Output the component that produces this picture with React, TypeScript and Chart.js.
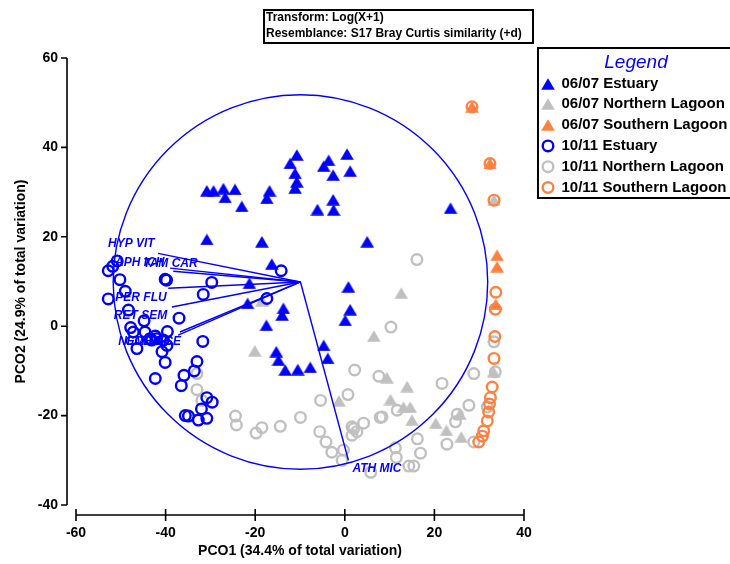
import React, { useEffect, useRef } from "react";
import { Chart, registerables } from "chart.js";

Chart.register(...registerables);

const FONT = '"Liberation Sans", Arial, sans-serif';
const BLUE = "#0000ff";
const GRAY = "#c0c0c0";
const ORANGE = "#ff8040";

const seriesLabels = [
  "06/07 Estuary",
  "06/07 Northern Lagoon",
  "06/07 Southern Lagoon",
  "10/11 Estuary",
  "10/11 Northern Lagoon",
  "10/11 Southern Lagoon",
];

const estuary0607: number[][] = [
  [-10.7, 38.3], [-12.2, 36.4], [-11.1, 34.2], [-10.7, 32.3], [-11.1, 30.9],
  [-3.6, 37.1], [-4.7, 35.8], [-2.6, 33.8], [0.5, 38.5], [1.2, 34.7],
  [-30.8, 30.3], [-29.3, 30.3], [-27.1, 30.8], [-24.5, 30.6], [-26.7, 28.8],
  [-23.0, 26.8], [-16.8, 30.3], [-17.4, 28.6], [-2.6, 28.3], [-2.5, 26.0],
  [-6.1, 26.1], [-30.8, 19.4], [-18.5, 18.9], [5.0, 18.9], [-16.3, 13.9],
  [-21.3, 9.6], [0.8, 8.8], [-13.7, 4.0], [-14.0, 2.5], [-21.7, 5.1],
  [-17.5, 0.2], [1.2, 3.7], [0.1, 1.3], [-15.3, -5.7], [-14.8, -7.6],
  [-13.3, -9.8], [-10.5, -9.7], [-7.7, -9.2], [-4.7, -4.3], [-3.8, -7.2],
  [23.6, 26.4],
];

const northern0607: number[][] = [
  [-18.5, 5.7], [-20.1, -5.5], [6.5, -2.2], [12.6, 7.4], [9.4, -11.5],
  [13.9, -13.5], [10.2, -16.4], [13.1, -18.1], [14.6, -18.1], [15.0, -21.0],
  [20.3, -21.7], [22.7, -23.3], [26.0, -24.8], [-1.3, -16.7], [33.2, -10.2],
  [25.7, -19.7], [33.3, 28.2],
];

const southern0607: number[][] = [
  [28.4, 49.1], [32.4, 36.4], [34.0, 15.9], [34.0, 13.3], [33.7, 4.9],
];

const estuary1011: number[][] = [
  [-52.8, 12.4], [-51.8, 13.4], [-50.8, 14.6], [-50.2, 10.4], [-49.0, 7.8],
  [-52.8, 6.1], [-40.1, 10.5], [-39.8, 10.3], [-29.7, 9.8], [-31.6, 7.1],
  [-17.4, 6.2], [-14.2, 12.4], [-37.0, 1.8], [-48.3, 3.6], [-44.8, 1.2],
  [-47.8, -0.3], [-47.2, -1.3], [-44.6, -1.3], [-43.5, -2.8], [-42.3, -2.2],
  [-46.4, -5.0], [-43.1, -3.1], [-42.0, -2.8], [-39.6, -1.2], [-40.5, -3.1],
  [-39.7, -4.3], [-40.8, -5.7], [-40.1, -8.1], [-31.7, -3.4], [-42.3, -11.7],
  [-33.0, -7.9], [-33.6, -10.0], [-35.9, -11.0], [-36.5, -13.3], [-30.8, -16.0],
  [-29.6, -17.0], [-32.0, -18.5], [-35.6, -20.0], [-34.9, -20.1], [-32.7, -21.0],
  [-30.8, -20.6],
];

const northern1011: number[][] = [
  [16.1, 14.9], [10.3, -0.2], [2.2, -9.8], [7.6, -11.2], [21.7, -12.8],
  [28.8, -10.6], [0.7, -15.3], [-5.4, -16.6], [-9.9, -20.4], [7.9, -20.4],
  [11.7, -18.8], [25.1, -19.7], [27.7, -17.7], [4.2, -21.7], [2.0, -22.9],
  [1.6, -24.4], [-5.6, -23.6], [-4.2, -25.9], [-2.9, -28.2], [-0.3, -27.7],
  [-0.6, -30.0], [16.2, -25.2], [16.9, -28.4], [11.3, -27.2], [11.5, -29.4],
  [22.8, -26.4], [15.4, -31.3], [14.3, -31.3], [5.8, -32.7], [28.8, -25.9],
  [33.3, -3.5], [33.6, -10.2], [24.7, -21.4], [31.8, -18.1], [8.3, -20.3],
  [2.7, -23.6], [-33.0, -10.6], [-33.0, -14.2], [-31.9, -16.6], [-24.4, -20.1],
  [-24.2, -22.1], [-18.5, -22.7], [-19.8, -23.9], [-14.4, -22.4], [1.6, -22.5],
];

const southern1011: number[][] = [
  [28.4, 49.1], [32.4, 36.4], [33.3, 28.2], [33.7, 7.6], [33.6, 3.8],
  [33.5, -2.3], [33.3, -7.2], [32.9, -13.6], [32.5, -16.0], [32.3, -17.4],
  [32.1, -19.2], [31.8, -21.2], [31.0, -23.4], [30.7, -24.6], [29.9, -25.9],
];

const xTicks = [-60, -40, -20, 0, 20, 40];
const yTicks = [-40, -20, 0, 20, 40, 60];

const vectorOrigin = [-9.9, 9.9];
const circleRadius = 41.8;
const vectorNames = ["HYP VIT", "APH ICH", "TAM CAR", "PER FLU", "RET SEM", "NEM ATE", "GOB ACE", "ATH MIC"];
const vectorX = [-41.7, -39.0, -38.3, -39.4, -38.6, -37.2, -36.8, 0.8];
const vectorY = [16.3, 13.0, 12.3, 8.5, 4.3, -2.0, -1.3, -30.0];
// label offset in pixels from the vector tip (left edge, vertical middle)
const labelDX = [-50, -55, -30, -53, -58, -60, -55, 4];
const labelDY = [-9.5, -5, -8, 9, 8.5, 7, 10, 8];

const infoLines = ["Transform: Log(X+1)", "Resemblance: S17 Bray Curtis similarity (+d)"];

function toPts(a: number[][]) {
  return a.map(([x, y]) => ({ x, y }));
}

function makeTriangle(color: string) {
  const c = document.createElement("canvas");
  c.width = 14;
  c.height = 12;
  const g = c.getContext("2d")!;
  g.fillStyle = color;
  g.beginPath();
  g.moveTo(7, 0.3);
  g.lineTo(13.8, 11.8);
  g.lineTo(0.2, 11.8);
  g.closePath();
  g.fill();
  return c;
}

function drawLegendMarker(ctx: CanvasRenderingContext2D, ds: any, x: number, y: number) {
  ctx.save();
  if (ds.pointStyle instanceof HTMLCanvasElement) {
    const img = ds.pointStyle as HTMLCanvasElement;
    ctx.drawImage(img, Math.round(x - img.width / 2), Math.round(y - img.height / 2));
  } else {
    ctx.strokeStyle = ds.borderColor;
    ctx.lineWidth = 2.4;
    ctx.beginPath();
    ctx.arc(x, y, 5.3, 0, Math.PI * 2);
    ctx.stroke();
  }
  ctx.restore();
}

const overlayPlugin = {
  id: "overlay",
  afterDatasetsDraw(chart: any) {
    const ctx: CanvasRenderingContext2D = chart.ctx;
    const xs = chart.scales.x;
    const ys = chart.scales.y;
    const px = (v: number) => xs.getPixelForValue(v);
    const py = (v: number) => ys.getPixelForValue(v);
    ctx.save();
    const ox = px(vectorOrigin[0]);
    const oy = py(vectorOrigin[1]);
    const r = px(vectorOrigin[0] + circleRadius) - ox;
    ctx.strokeStyle = BLUE;
    ctx.lineWidth = 1.4;
    ctx.beginPath();
    ctx.arc(ox, oy, r, 0, Math.PI * 2);
    ctx.stroke();
    ctx.font = `italic bold 12px ${FONT}`;
    ctx.fillStyle = BLUE;
    ctx.textBaseline = "middle";
    ctx.textAlign = "left";
    for (let i = 0; i < vectorNames.length; i++) {
      const ex = px(vectorX[i]);
      const ey = py(vectorY[i]);
      ctx.beginPath();
      ctx.moveTo(ox, oy);
      ctx.lineTo(ex, ey);
      ctx.stroke();
      ctx.fillText(vectorNames[i], ex + labelDX[i], ey + labelDY[i]);
    }
    ctx.restore();
  },
  afterDraw(chart: any) {
    const ctx: CanvasRenderingContext2D = chart.ctx;
    const xs = chart.scales.x;
    const ys = chart.scales.y;
    const area = chart.chartArea;
    ctx.save();
    // axes (detached, PRIMER style)
    ctx.strokeStyle = "#000";
    ctx.lineWidth = 1.6;
    const yAxisX = area.left - 9;
    ctx.beginPath();
    ctx.moveTo(yAxisX, ys.getPixelForValue(yTicks[0]));
    ctx.lineTo(yAxisX, ys.getPixelForValue(yTicks[yTicks.length - 1]));
    for (const t of yTicks) {
      const y = ys.getPixelForValue(t);
      ctx.moveTo(yAxisX - 6, y);
      ctx.lineTo(yAxisX, y);
    }
    const xAxisY = area.bottom + 10;
    ctx.moveTo(xs.getPixelForValue(xTicks[0]), xAxisY);
    ctx.lineTo(xs.getPixelForValue(xTicks[xTicks.length - 1]), xAxisY);
    for (const t of xTicks) {
      const x = xs.getPixelForValue(t);
      ctx.moveTo(x, xAxisY - 6);
      ctx.lineTo(x, xAxisY + 6);
    }
    ctx.stroke();

    // info box
    ctx.lineWidth = 2;
    ctx.strokeRect(264, 10, 269, 33);
    ctx.fillStyle = "#000";
    ctx.font = `bold 12px ${FONT}`;
    ctx.textBaseline = "middle";
    ctx.textAlign = "left";
    ctx.fillText(infoLines[0], 266, 18);
    ctx.fillText(infoLines[1], 266, 33.5);

    // legend
    ctx.lineWidth = 2;
    ctx.strokeRect(538, 48, 200, 150);
    ctx.fillStyle = BLUE;
    ctx.font = `italic 19px ${FONT}`;
    ctx.textAlign = "center";
    ctx.fillText("Legend", 636, 63);
    ctx.textAlign = "left";
    ctx.font = `bold 15px ${FONT}`;
    chart.data.datasets.forEach((ds: any, i: number) => {
      const y = 83.5 + i * 20.8;
      drawLegendMarker(ctx, ds, 548, y);
      ctx.fillStyle = "#000";
      ctx.fillText(ds.label, 561.5, y);
    });
    ctx.restore();
  },
};

export default function App() {
  const ref = useRef<HTMLCanvasElement>(null);
  useEffect(() => {
    if (!ref.current) return;
    const tri = (label: string, color: string, data: number[][], order: number) => ({
      label,
      data: toPts(data),
      pointStyle: makeTriangle(color),
      pointRadius: 7,
      pointHoverRadius: 7,
      backgroundColor: color,
      borderColor: color,
      borderWidth: 0,
      order,
    });
    const circ = (label: string, color: string, data: number[][], order: number) => ({
      label,
      data: toPts(data),
      pointStyle: "circle",
      pointRadius: 5.3,
      pointHoverRadius: 5.3,
      backgroundColor: "rgba(0,0,0,0)",
      borderColor: color,
      borderWidth: 2.4,
      order,
    });
    const chart = new Chart(ref.current, {
      type: "scatter",
      data: {
        datasets: [
          tri(seriesLabels[0], BLUE, estuary0607, 4),
          tri(seriesLabels[1], GRAY, northern0607, 5),
          tri(seriesLabels[2], ORANGE, southern0607, 2),
          circ(seriesLabels[3], BLUE, estuary1011, 3),
          circ(seriesLabels[4], GRAY, northern1011, 6),
          circ(seriesLabels[5], ORANGE, southern1011, 1),
        ] as any,
      },
      options: {
        responsive: false,
        animation: false,
        devicePixelRatio: 1,
        layout: { padding: { left: 0, right: 206, top: 58, bottom: 0 } },
        plugins: { legend: { display: false }, tooltip: { enabled: false } },
        scales: {
          x: {
            type: "linear",
            min: -60,
            max: 40,
            grid: { display: false, drawTicks: false },
            border: { display: false },
            afterBuildTicks: (s: any) => { s.ticks = xTicks.map((v) => ({ value: v })); },
            afterFit: (s: any) => { s.height = 59; },
            ticks: {
              padding: 20,
              color: "#000",
              font: { family: FONT, size: 14, weight: "bold" },
            },
            title: {
              display: true,
              text: "PCO1 (34.4% of total variation)",
              color: "#000",
              font: { family: FONT, size: 14, weight: "bold" },
              padding: { top: 0, bottom: 4 },
            },
          },
          y: {
            type: "linear",
            min: -40,
            max: 60,
            grid: { display: false, drawTicks: false },
            border: { display: false },
            afterBuildTicks: (s: any) => { s.ticks = yTicks.map((v) => ({ value: v })); },
            afterFit: (s: any) => { s.width = 76; },
            ticks: {
              padding: 18,
              color: "#000",
              font: { family: FONT, size: 14, weight: "bold" },
            },
            title: {
              display: true,
              text: "PCO2 (24.9% of total variation)",
              color: "#000",
              font: { family: FONT, size: 14, weight: "bold" },
              padding: { top: 13, bottom: 0 },
            },
          },
        },
      },
      plugins: [overlayPlugin],
    } as any);
    return () => chart.destroy();
  }, []);
  return (
    <div style={{ position: "fixed", left: 0, top: 0, width: 730, height: 564, background: "#fff" }}>
      <canvas ref={ref} width={730} height={564} style={{ width: 730, height: 564, display: "block" }} />
    </div>
  );
}
